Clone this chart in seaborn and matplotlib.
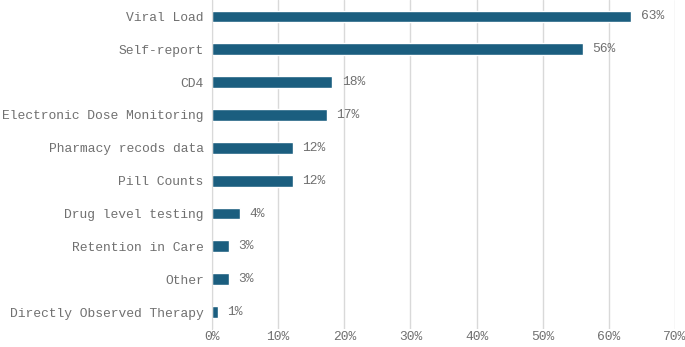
import numpy as np
import pandas as pd
import matplotlib
matplotlib.use("Agg")
import matplotlib.pyplot as plt
import seaborn as sns
from matplotlib.ticker import FixedLocator

methods = ["Viral Load", "Self-report", "CD4", "Electronic Dose Monitoring",
           "Pharmacy recods data", "Pill Counts", "Drug level testing",
           "Retention in Care", "Other", "Directly Observed Therapy"]
shares = [63.4, 56.1, 18.2, 17.4, 12.2, 12.2, 4.3, 2.6, 2.6, 0.9]
labels = ["63%", "56%", "18%", "17%", "12%", "12%", "4%", "3%", "3%", "1%"]
xticks = [0, 10, 20, 30, 40, 50, 60, 70]

df = pd.DataFrame({"method": methods, "share": shares})

sns.set_style("white")
plt.rcParams["font.family"] = ["Liberation Mono", "DejaVu Sans Mono"]
txt = "#707070"
fs = 9.35

fig = plt.figure(figsize=(6.85, 3.47), dpi=100)
ax = fig.add_axes([0.3095, 0.0533, 0.676, 0.9467])

sns.barplot(data=df, x="share", y="method", orient="h", color="#1b5e7f",
            width=0.36, saturation=1, ax=ax)

for i, (v, lab) in enumerate(zip(shares, labels)):
    ax.text(v + 1.4, i, lab, va="center", ha="left", fontsize=fs, color=txt)

ax.set_xlim(0, 70)
ax.set_ylim(len(methods) - 0.5, -0.5)
ax.set_xticks(xticks)
ax.set_xticklabels([f"{t}%" for t in xticks])
ax.xaxis.grid(True, color="#d9d9d9", linewidth=1)
ax.set_axisbelow(True)
ax.set_xlabel("")
ax.set_ylabel("")

for s in ["top", "right", "bottom"]:
    ax.spines[s].set_visible(False)
ax.spines["left"].set_color("#d9d9d9")

ax.tick_params(axis="x", length=0, labelsize=fs, labelcolor=txt, pad=2)
ax.tick_params(axis="y", which="major", length=0, labelsize=fs, labelcolor=txt, pad=6)
ax.yaxis.set_minor_locator(FixedLocator(np.arange(-0.5, len(methods), 1.0)))
ax.tick_params(axis="y", which="minor", length=5, color="#d9d9d9", width=1)

fig.savefig("out.png", dpi=100)
